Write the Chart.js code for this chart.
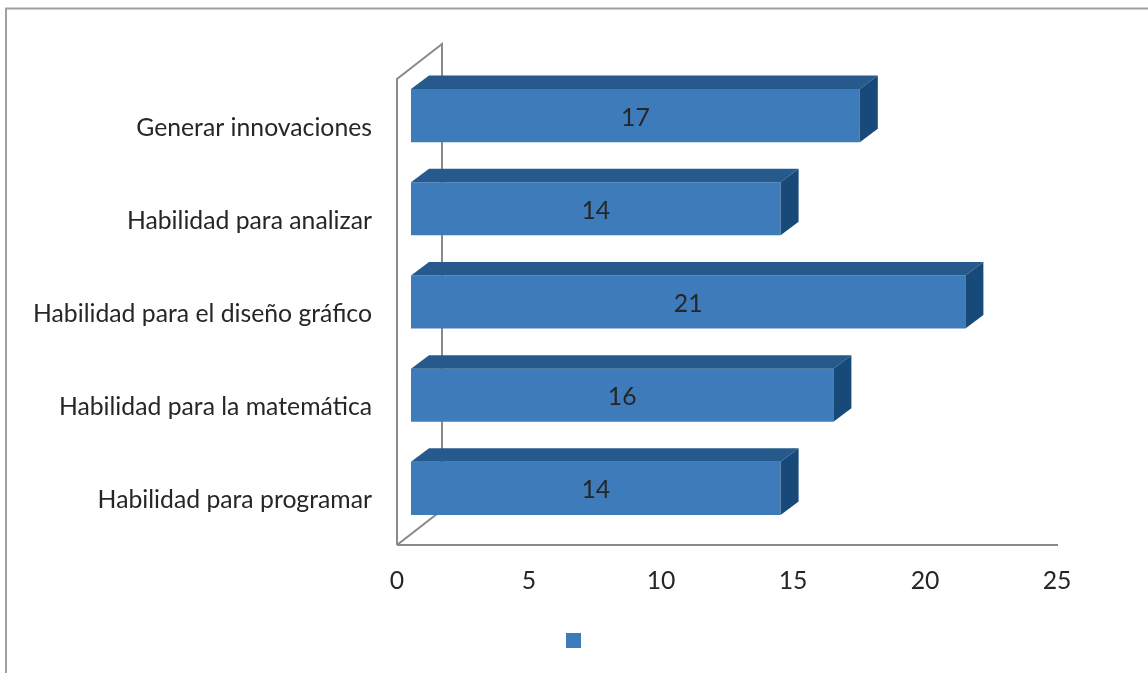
<!DOCTYPE html>
<html>
<head>
<meta charset="utf-8">
<script src="https://cdn.jsdelivr.net/npm/chart.js@4.4.1/dist/chart.umd.min.js"></script>
<style>
  html, body { margin: 0; padding: 0; background: #ffffff; }
  #wrap { position: relative; width: 1148px; height: 673px; }
</style>
</head>
<body>
<div id="wrap"><canvas id="chart" width="1148" height="673"></canvas></div>
<script>
// ---- data ----
const categories = [
  'Generar innovaciones',
  'Habilidad para analizar',
  'Habilidad para el diseño gráfico',
  'Habilidad para la matemática',
  'Habilidad para programar'
];
const values = [17, 14, 21, 16, 14];
const xTickValues = [0, 5, 10, 15, 20, 25];
const seriesLabel = '';

// ---- style ----
const FONT_FAMILY = 'Lato, "Open Sans", sans-serif';
const FONT_SIZE = 24.75;
const TEXT_COLOR = '#262626';
const FRONT = '#3e7bba';
const TOP = '#275a8c';
const SIDE = '#184a79';
const AXIS = '#8a8a8a';
const WALL = { dx: 45, dy: -35 };
const BAR_OFF = { dx: 14, dy: -10 };
const BAR_DEPTH = { dx: 18, dy: -13.5 };

const excel3d = {
  id: 'excel3d',
  beforeDraw(chart) {
    const ctx = chart.ctx;
    ctx.save();
    ctx.fillStyle = '#ffffff';
    ctx.fillRect(0, 0, chart.width, chart.height);
    ctx.strokeStyle = '#a0a0a0';
    ctx.lineWidth = 2;
    ctx.beginPath();
    ctx.moveTo(6, chart.height + 5);
    ctx.lineTo(6, 8.5);
    ctx.lineTo(chart.width + 5, 8.5);
    ctx.stroke();
    ctx.restore();
  },
  beforeDatasetsDraw(chart) {
    const { ctx, chartArea: a } = chart;
    ctx.save();
    ctx.strokeStyle = AXIS;
    ctx.lineWidth = 2;
    ctx.lineJoin = 'miter';
    ctx.beginPath();
    ctx.moveTo(a.left, a.bottom);
    ctx.lineTo(a.left, a.top);
    ctx.lineTo(a.left + WALL.dx, a.top + WALL.dy);
    ctx.lineTo(a.left + WALL.dx, a.bottom + WALL.dy);
    ctx.lineTo(a.left, a.bottom);
    ctx.moveTo(a.left, a.bottom);
    ctx.lineTo(a.right + 1, a.bottom);
    ctx.stroke();
    ctx.restore();
    ctx.save();
    ctx.translate(BAR_OFF.dx, BAR_OFF.dy);
  },
  afterDatasetsDraw(chart) {
    const ctx = chart.ctx;
    const meta = chart.getDatasetMeta(0);
    meta.data.forEach((bar, i) => {
      const p = bar.getProps(['x', 'y', 'base', 'height'], true);
      const t = p.y - p.height / 2, b = p.y + p.height / 2;
      const l = Math.min(p.base, p.x), r = Math.max(p.base, p.x);
      ctx.fillStyle = TOP;
      ctx.beginPath();
      ctx.moveTo(l, t); ctx.lineTo(r, t);
      ctx.lineTo(r + BAR_DEPTH.dx, t + BAR_DEPTH.dy);
      ctx.lineTo(l + BAR_DEPTH.dx, t + BAR_DEPTH.dy);
      ctx.closePath(); ctx.fill();
      ctx.fillStyle = SIDE;
      ctx.beginPath();
      ctx.moveTo(r, t);
      ctx.lineTo(r + BAR_DEPTH.dx, t + BAR_DEPTH.dy);
      ctx.lineTo(r + BAR_DEPTH.dx, b + BAR_DEPTH.dy);
      ctx.lineTo(r, b);
      ctx.closePath(); ctx.fill();
      ctx.fillStyle = TEXT_COLOR;
      ctx.font = FONT_SIZE + 'px ' + FONT_FAMILY;
      ctx.textAlign = 'center';
      ctx.textBaseline = 'middle';
      ctx.fillText(String(values[i]), (l + r) / 2, p.y + 2);
    });
    ctx.restore();
  }
};

new Chart(document.getElementById('chart'), {
  type: 'bar',
  data: {
    labels: categories,
    datasets: [{
      label: seriesLabel,
      data: values,
      backgroundColor: FRONT,
      borderWidth: 0,
      barPercentage: 0.57,
      categoryPercentage: 1,
      clip: false,
      xAxisID: 'x',
      yAxisID: 'y'
    }]
  },
  options: {
    indexAxis: 'y',
    responsive: false,
    animation: false,
    devicePixelRatio: 1,
    layout: { padding: { left: 0, right: 0, top: 79, bottom: 15 } },
    plugins: {
      tooltip: { enabled: false },
      legend: {
        display: true,
        position: 'bottom',
        labels: { boxWidth: 15, boxHeight: 15, padding: 10, font: { size: 2 } }
      }
    },
    scales: {
      x: {
        type: 'linear',
        position: 'bottom',
        min: 0,
        max: 25,
        afterBuildTicks: (s) => { s.ticks = xTickValues.map(v => ({ value: v })); },
        afterFit: (s) => { s.height = 78; },
        grid: { display: false, drawTicks: false },
        border: { display: false },
        ticks: {
          padding: 21,
          color: TEXT_COLOR,
          font: { family: FONT_FAMILY, size: FONT_SIZE }
        }
      },
      y: {
        type: 'category',
        position: 'left',
        afterFit: (s) => { s.width = 397; },
        grid: { display: false, drawTicks: false },
        border: { display: false },
        ticks: {
          padding: 25,
          labelOffset: 2,
          color: TEXT_COLOR,
          font: { family: FONT_FAMILY, size: FONT_SIZE }
        }
      },
      yRight: {
        type: 'linear',
        position: 'right',
        display: true,
        afterFit: (s) => { s.width = 91; },
        grid: { display: false, drawTicks: false },
        border: { display: false },
        ticks: { display: false }
      }
    }
  },
  plugins: [excel3d]
});
</script>
</body>
</html>
